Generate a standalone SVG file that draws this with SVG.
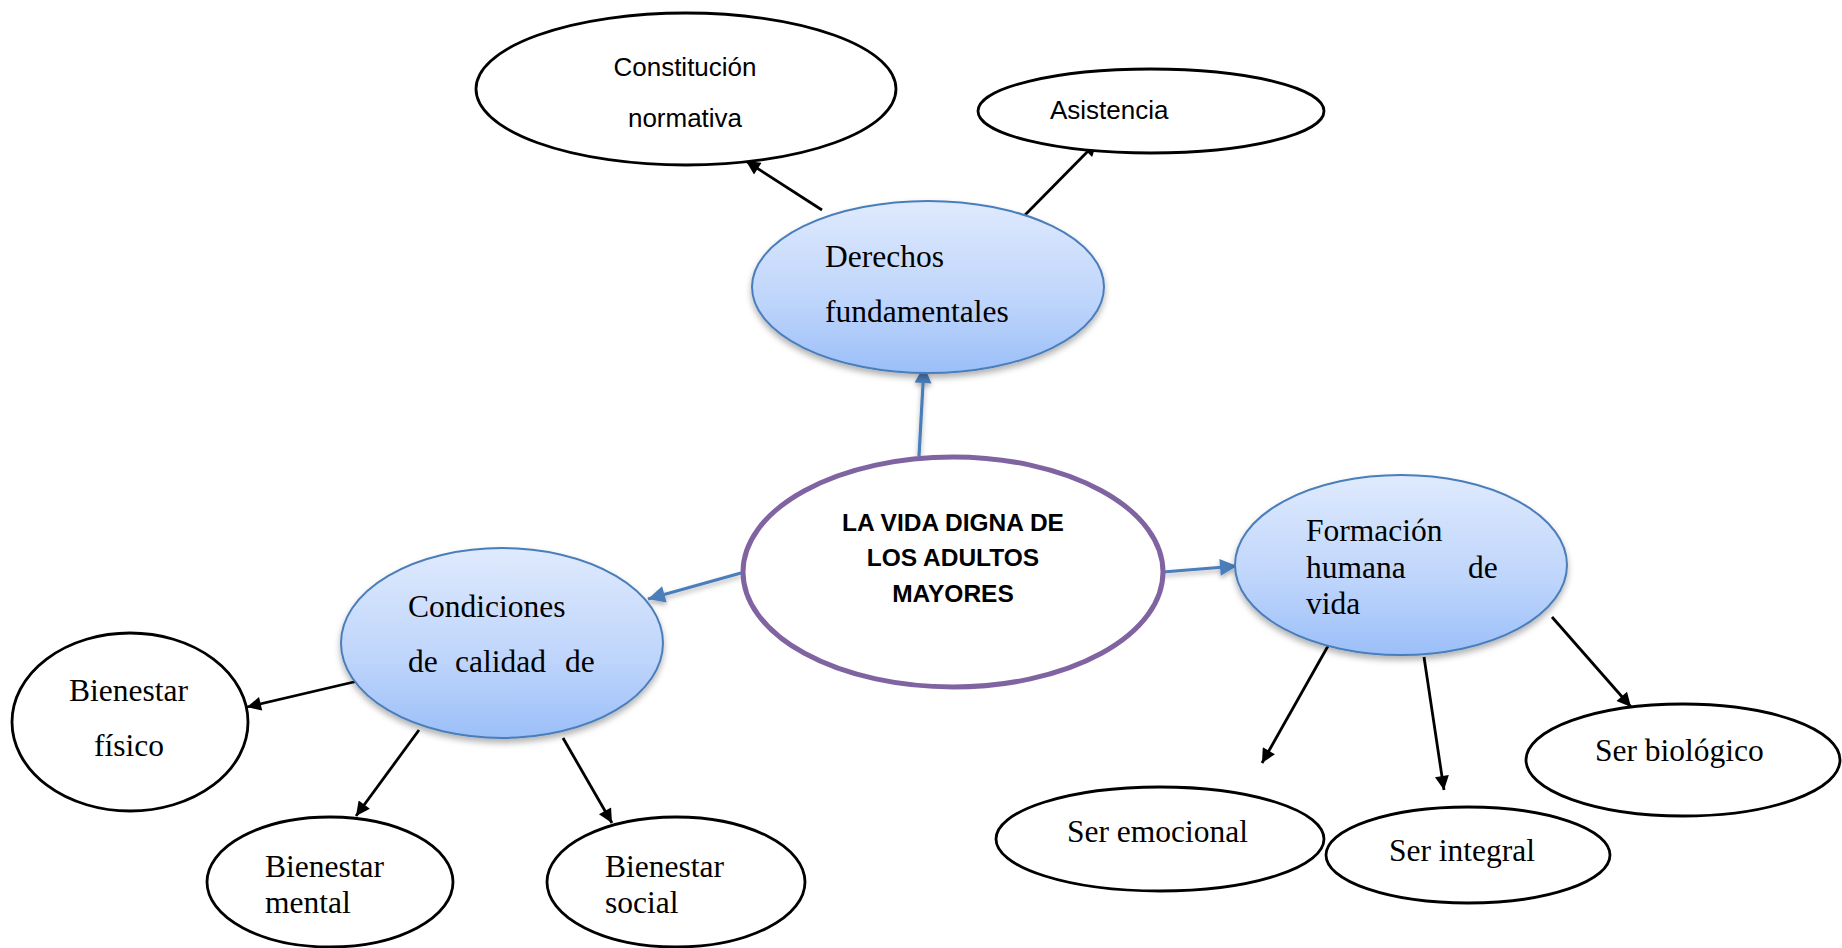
<svg xmlns="http://www.w3.org/2000/svg" width="1842" height="948" viewBox="0 0 1842 948">
<style>
.plain{fill:#ffffff;stroke:#000000;stroke-width:2.8}
.blue{fill:url(#bg);stroke:#4a7ebb;stroke-width:2}
.center{fill:#ffffff;stroke:#8064a2;stroke-width:5}
.serif{font-family:"Liberation Serif","Times New Roman",serif;font-size:31.5px;fill:#000}
.sans{font-family:"Liberation Sans",Arial,sans-serif;font-size:26px;fill:#000}
.bold{font-family:"Liberation Sans",Arial,sans-serif;font-size:24.5px;font-weight:bold;fill:#000}
.blk{stroke:#000;stroke-width:2.8;fill:none;marker-end:url(#ab)}
.bl{stroke:#4a7ebb;stroke-width:3.2;fill:none;marker-end:url(#au)}
</style>
<defs>
<linearGradient id="bg" x1="0" y1="0" x2="0" y2="1">
<stop offset="0" stop-color="#dfeafd"/>
<stop offset="0.6" stop-color="#bdd4fb"/>
<stop offset="1" stop-color="#9bbff9"/>
</linearGradient>
<filter id="sh" x="-20%" y="-20%" width="140%" height="150%">
<feDropShadow dx="0" dy="4" stdDeviation="3" flood-color="#000" flood-opacity="0.3"/>
</filter>
<filter id="sha" filterUnits="userSpaceOnUse" x="0" y="0" width="1842" height="948">
<feDropShadow dx="0" dy="3" stdDeviation="2.5" flood-color="#000" flood-opacity="0.3"/>
</filter>
<marker id="ab" viewBox="0 0 10 10" refX="10" refY="5" markerWidth="19" markerHeight="14" orient="auto" markerUnits="userSpaceOnUse">
<path d="M0,0 L10,5 L0,10 z" fill="#000"/>
</marker>
<marker id="au" viewBox="0 0 10 10" refX="10" refY="5" markerWidth="21" markerHeight="17" orient="auto" markerUnits="userSpaceOnUse">
<path d="M0,0 L10,5 L0,10 z" fill="#4a7ebb"/>
</marker>
</defs>

<g id="connectors">
<g filter="url(#sha)">
<line class="bl" x1="919" y1="456" x2="924" y2="366"/>
<line class="bl" x1="741" y1="573" x2="648" y2="599"/>
<line class="bl" x1="1163" y1="572" x2="1237" y2="566"/>
</g>
<line class="blk" x1="822" y1="210" x2="746" y2="161"/>
<line class="blk" x1="1024" y1="216" x2="1097" y2="142"/>
<line class="blk" x1="358" y1="681" x2="247" y2="707"/>
<line class="blk" x1="419" y1="730" x2="356" y2="816"/>
<line class="blk" x1="563" y1="738" x2="612" y2="823"/>
<line class="blk" x1="1328" y1="646" x2="1262" y2="763"/>
<line class="blk" x1="1424" y1="657" x2="1444" y2="790"/>
<line class="blk" x1="1552" y1="617" x2="1631" y2="707"/>
</g>

<g id="n-constitucion">
<ellipse class="plain" cx="686" cy="89" rx="210" ry="76"/>
<text class="sans" x="685" y="76" text-anchor="middle">Constitución</text>
<text class="sans" x="685" y="127" text-anchor="middle">normativa</text>
</g>

<g id="n-asistencia">
<ellipse class="plain" cx="1151" cy="111" rx="173" ry="42"/>
<text class="sans" x="1050" y="119">Asistencia</text>
</g>

<g id="n-derechos">
<ellipse class="blue" cx="928" cy="287" rx="176" ry="86" filter="url(#sh)"/>
<text class="serif" x="825" y="267">Derechos</text>
<text class="serif" x="825" y="322">fundamentales</text>
</g>

<g id="n-central">
<ellipse class="center" cx="953" cy="572" rx="210" ry="115"/>
<text class="bold" x="953" y="531" text-anchor="middle">LA VIDA DIGNA DE</text>
<text class="bold" x="953" y="566" text-anchor="middle">LOS ADULTOS</text>
<text class="bold" x="953" y="602" text-anchor="middle">MAYORES</text>
</g>

<g id="n-condiciones">
<ellipse class="blue" cx="502" cy="643" rx="161" ry="95" filter="url(#sh)"/>
<text class="serif" x="408" y="617">Condiciones</text>
<text class="serif" y="672"><tspan x="408">de</tspan><tspan x="455">calidad</tspan><tspan x="565">de</tspan></text>
</g>

<g id="n-formacion">
<ellipse class="blue" cx="1401" cy="565" rx="166" ry="90" filter="url(#sh)"/>
<text class="serif" x="1306" y="541">Formación</text>
<text class="serif" y="578"><tspan x="1306">humana</tspan><tspan x="1468">de</tspan></text>
<text class="serif" x="1306" y="614">vida</text>
</g>

<g id="n-fisico">
<ellipse class="plain" cx="130" cy="722" rx="118" ry="89"/>
<text class="serif" x="69" y="701">Bienestar</text>
<text class="serif" x="94" y="756">físico</text>
</g>

<g id="n-mental">
<ellipse class="plain" cx="330" cy="882" rx="123" ry="65"/>
<text class="serif" x="265" y="877">Bienestar</text>
<text class="serif" x="265" y="913">mental</text>
</g>

<g id="n-social">
<ellipse class="plain" cx="676" cy="882" rx="129" ry="65"/>
<text class="serif" x="605" y="877">Bienestar</text>
<text class="serif" x="605" y="913">social</text>
</g>

<g id="n-emocional">
<ellipse class="plain" cx="1160" cy="839" rx="164" ry="52"/>
<text class="serif" x="1067" y="842">Ser emocional</text>
</g>

<g id="n-integral">
<ellipse class="plain" cx="1468" cy="855" rx="142" ry="48"/>
<text class="serif" x="1389" y="861">Ser integral</text>
</g>

<g id="n-biologico">
<ellipse class="plain" cx="1683" cy="760" rx="157" ry="56"/>
<text class="serif" x="1595" y="761">Ser biológico</text>
</g>
</svg>
